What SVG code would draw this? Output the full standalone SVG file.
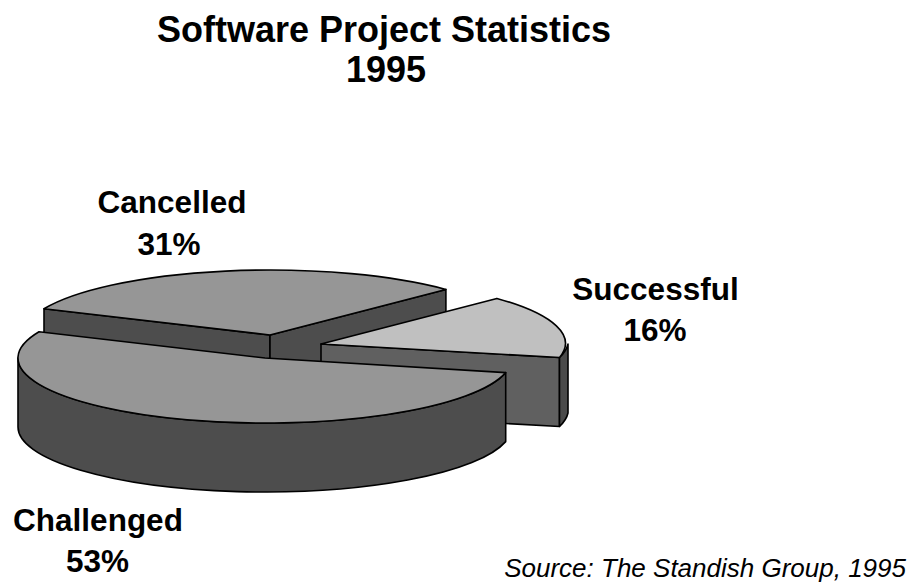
<svg xmlns="http://www.w3.org/2000/svg" width="917" height="588" viewBox="0 0 917 588">
<style>
.t{font-family:"Liberation Sans",Arial,sans-serif;font-weight:bold;fill:#000;text-anchor:middle}
.l{font-size:31.5px}
.s{font-family:"Liberation Sans",Arial,sans-serif;font-style:italic;fill:#000;text-anchor:end;font-size:26px}
.f{stroke:#000;stroke-width:1.6;stroke-linejoin:round}
.top{fill:#969696}
.lt{fill:#c0c0c0}
.wall{fill:#4d4d4d}
.wall2{fill:#606060}
.rim2{fill:#4a4a4a}
</style>
<rect width="917" height="588" fill="#fff"/>
<g id="title">
<text class="t" x="384" y="42" font-size="36">Software Project Statistics</text>
<text class="t" x="386" y="82" font-size="36">1995</text>
</g>
<g id="cancelled">
<path class="f wall" d="M270,335 L44,308.8 L44,377.8 L270,404 Z"/>
<path class="f wall" d="M270,335 L445.9,289.4 L445.9,358.4 L270,404 Z"/>
<path class="f top" d="M270,335 L44,308.8 A247,65 0 0 1 445.9,289.4 Z"/>
</g>
<g id="successful">
<path class="f wall2" d="M321,344 L559.5,357.5 L559.5,426.5 L321,413 Z"/>
<path class="f rim2" d="M568,344 A247,65 0 0 1 559.5,357.5 L559.5,426.5 A247,65 0 0 0 568,413 Z"/>
<path class="f lt" d="M321,344 L496.9,298.4 A247,65 0 0 1 559.5,357.5 Z"/>
</g>
<g id="challenged">
<path class="f wall" d="M505.7,372.6 A247,65 0 0 1 18,358 L18,427 A247,65 0 0 0 505.7,441.6 Z"/>
<path class="f top" d="M265,358 L505.7,372.6 A247,65 0 1 1 39,331.8 Z"/>
</g>
<g id="labels">
<text class="t l" x="172" y="213">Cancelled</text>
<text class="t l" x="169" y="255">31%</text>
<text class="t l" x="655.5" y="300">Successful</text>
<text class="t l" x="655" y="341">16%</text>
<text class="t l" x="98" y="531">Challenged</text>
<text class="t l" x="97.5" y="572">53%</text>
<text class="s" x="906" y="577">Source: The Standish Group, 1995</text>
</g>
<g id="connectors"></g>
</svg>
